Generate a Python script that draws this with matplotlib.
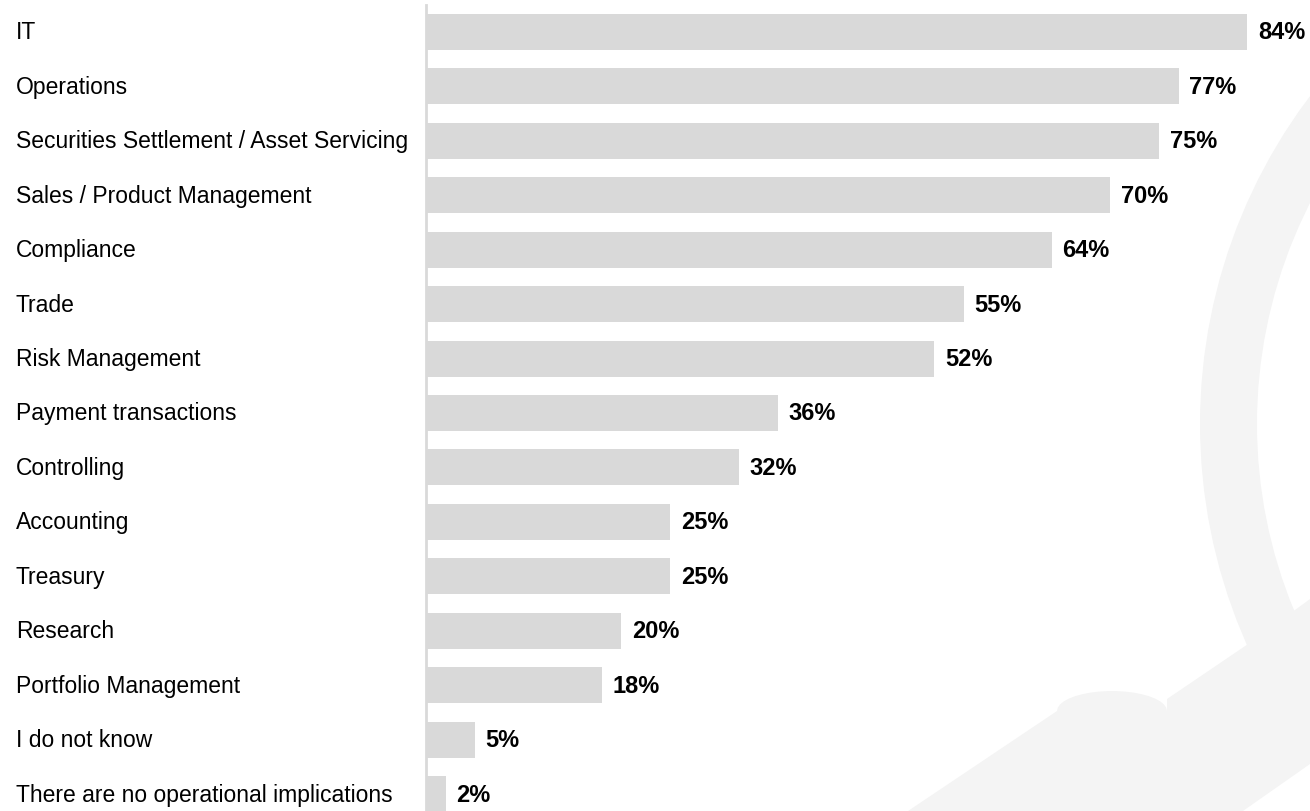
import matplotlib
matplotlib.use("Agg")
import matplotlib.pyplot as plt
import matplotlib.transforms as mtransforms
from matplotlib.patches import Wedge, Polygon
import numpy as np

plt.rcParams['font.family'] = ['Liberation Sans', 'DejaVu Sans']

categories = [
    "IT",
    "Operations",
    "Securities Settlement / Asset Servicing",
    "Sales / Product Management",
    "Compliance",
    "Trade",
    "Risk Management",
    "Payment transactions",
    "Controlling",
    "Accounting",
    "Treasury",
    "Research",
    "Portfolio Management",
    "I do not know",
    "There are no operational implications",
]
shares = [84, 77, 75, 70, 64, 55, 52, 36, 32, 25, 25, 20, 18, 5, 2]

W, H = 1310, 812
fig = plt.figure(figsize=(W / 100, H / 100), dpi=100)

# faint logo watermark in the lower right, drawn in pixel space
bg = fig.add_axes([0, 0, 1, 1], zorder=0)
bg.set_xlim(0, W)
bg.set_ylim(H, 0)
bg.axis("off")
wm = "#f4f4f4"
bg.add_patch(Wedge((1744, 425), 544, 90, 270, width=57, facecolor=wm, edgecolor="none"))
hump = np.linspace(0.0, np.pi, 20)
hump_x = 1112 + 55 * np.cos(hump)
hump_y = 712 - 20 * np.sin(hump)
handle = [(1254, 641), (1167, 700)] + list(zip(hump_x, hump_y)) + \
         [(908, 812), (1243, 812), (1310, 765), (1310, 600)]
bg.add_patch(Polygon(handle, closed=True, facecolor=wm, edgecolor="none"))

# bar chart
x0 = 426
px_per_pct = 9.774
ax = fig.add_axes([x0 / W, 0, (W - x0) / W, 1], zorder=1)
ax.patch.set_alpha(0)
ax.set_xlim(0, (W - x0) / px_per_pct)
row = 54.43
ax.set_ylim(14 + (H - 795) / row, -33 / row)

y = np.arange(len(categories))
ax.barh(y, shares, height=0.66, color="#d9d9d9", edgecolor="none")

for s in ["top", "right", "bottom"]:
    ax.spines[s].set_visible(False)
ax.spines["left"].set_color("#d9d9d9")
ax.spines["left"].set_linewidth(2)
ax.spines["left"].set_bounds(-0.5, 14 + (H - 795) / row)
ax.set_xticks([])
ax.set_yticks([])

trans = mtransforms.blended_transform_factory(fig.transFigure, ax.transData)
for yi, name in zip(y, categories):
    ax.text(16 / W, yi, name, transform=trans, ha="left", va="center",
            fontsize=16.5, color="black")

for yi, v in zip(y, shares):
    ax.text(v + 1.1, yi, f"{v}%", ha="left", va="center",
            fontsize=17, fontweight="bold", color="black")

fig.savefig("out.png", dpi=100)
